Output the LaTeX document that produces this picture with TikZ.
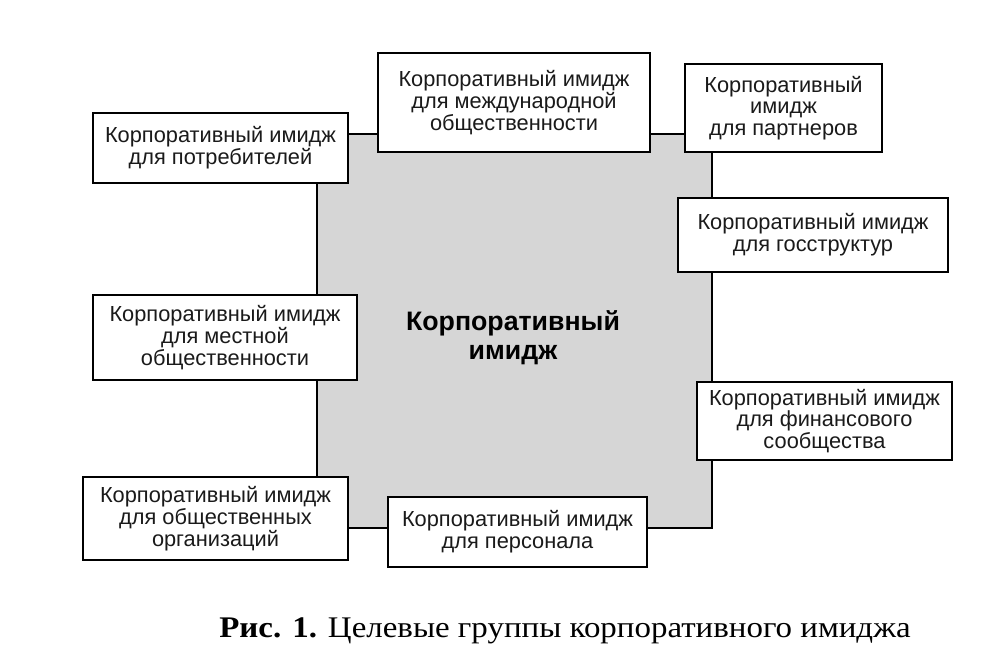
\documentclass[tikz,border=0pt]{standalone}
\usepackage{fontspec}
\setmainfont{Liberation Serif}
\newfontfamily\boxfont{Liberation Sans}
\newfontfamily\capfont[FakeStretch=1.1]{Liberation Serif}
\definecolor{ImageGray}{HTML}{D6D6D6}
\definecolor{ImageText}{HTML}{1A1A1A}

\begin{document}
\begin{tikzpicture}[x=0.025cm,y=-0.025cm]
    \tikzset{group/.style={draw=black,fill=white,line width=1.3pt,inner sep=0pt,align=center,text=ImageText,font=\boxfont\fontsize{15.5}{15.5}\selectfont},
      core/.style={draw=black,fill=ImageGray,line width=1.3pt,minimum width=9.875cm,minimum height=9.85cm}}
    \useasboundingbox (0,0) rectangle (1007,658);
    \node[core] (image) at (514.5,331) {};
    \node[align=center,font=\boxfont\bfseries\fontsize{19}{20.5}\selectfont] (title) at (513,338) {Корпоративный\\имидж};
    \node[group,minimum width=6.375cm,minimum height=1.75cm] (consumers) at (220.5,148) {Корпоративный имидж\\для потребителей};
    \node[group,minimum width=6.8cm,minimum height=2.475cm] (world) at (514,102.5) {Корпоративный имидж\\для международной\\общественности};
    \node[group,minimum width=4.925cm,minimum height=2.2cm] (partners) at (783.5,108) {Корпоративный\\имидж\\для партнеров};
    \node[group,minimum width=6.75cm,minimum height=1.85cm] (state) at (813,235) {Корпоративный имидж\\для госструктур};
    \node[group,minimum width=6.6cm,minimum height=2.125cm] (local) at (225,337.5) {Корпоративный имидж\\для местной\\общественности};
    \node[group,minimum width=6.375cm,minimum height=1.95cm] (finance) at (824.5,421) {Корпоративный имидж\\для финансового\\сообщества};
    \node[group,minimum width=6.625cm,minimum height=2.075cm] (public) at (215.5,518.5) {Корпоративный имидж\\для общественных\\организаций};
    \node[group,minimum width=6.475cm,minimum height=1.75cm] (staff) at (517.5,532) {Корпоративный имидж\\для персонала};
    \node[anchor=base,font=\capfont\fontsize{21.3}{22}\selectfont] (caption) at (565,637) {\textbf{Рис. 1.} Целевые группы корпоративного имиджа};
  \end{tikzpicture}
\end{document}
